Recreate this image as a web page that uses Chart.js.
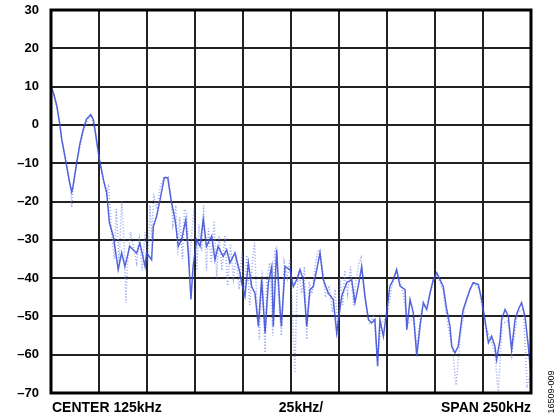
<!DOCTYPE html>
<html>
<head>
<meta charset="utf-8">
<script src="https://cdn.jsdelivr.net/npm/chart.js@4"></script>
<style>
  html, body { margin: 0; padding: 0; background: #fff; }
  #wrap { width: 560px; height: 418px; }
</style>
</head>
<body>
<div id="wrap"><canvas id="spectrum" width="560" height="418"></canvas></div>
<script>
// ── Data (kHz / dB) ───────────────────────────────────────────────────────────
const Y_TICKS = [30, 20, 10, 0, -10, -20, -30, -40, -50, -60, -70];
const X_LABELS = ['CENTER 125kHz', '25kHz/', 'SPAN 250kHz'];
const FIG_ID = '16509-009';

const solidFreq = [0,1.5,3,4.5,5.6,7,8.2,9.5,10.3,10.8,11.5,13.4,15,16.8,18.5,20.7,22,22.9,24,25.2,27.3,29,30.4,32.4,34.2,35,36.8,38.5,41,44.6,46.3,49,49.8,52.4,53.3,55,56.8,59,60.8,62.5,64.6,66.3,68,70.2,71.5,72.9,74,75.9,77.6,79.3,81,83.7,85.4,87,89.7,91.5,93.2,95.8,98.4,99.3,101,102.8,104.5,106.2,108,109.7,111.5,113.2,115,115.8,117.5,119.3,120,121.9,124.5,126.2,128,129.7,131.4,133.2,134.9,136.6,138.4,140.1,141.8,144.4,147,148.8,151.4,154,156.6,158.3,160,161.8,163.5,165.3,167,168.7,170.1,171.3,173.1,174.8,176.5,178.3,180,181.8,184.4,185.3,187,188.7,190.5,192.2,193.9,195.7,197.4,199.1,200.9,202.6,204.3,206.1,207.8,208.7,210.4,212.1,213.9,214.7,216.5,218.2,219.9,222.6,224.3,226,227.8,229.5,231.2,232.1,233.9,234.7,236.5,238.2,239.9,241.7,243.4,245.1,246.9,248.6,250];
const solidLevel = [10,8,5,0.5,-3.8,-7.5,-10.8,-14.5,-16.4,-17.5,-16,-9.8,-5,-1.2,1.5,2.7,1.5,-1.2,-5,-9,-14.3,-17.7,-25.5,-29,-35,-37.8,-33.4,-37,-31.7,-33.5,-30.8,-37,-33.4,-35.2,-26.5,-23.9,-19.5,-13.8,-13.8,-19.5,-24.7,-31.7,-30,-24.7,-33.4,-45.6,-37,-30,-31.7,-24.7,-31.7,-29,-35.2,-31.7,-34.3,-32.6,-36,-33.4,-38.6,-41.3,-44.7,-36,-42.2,-43.9,-52.6,-40.4,-54.3,-41.2,-37,-52.6,-32.6,-48.2,-52.6,-37,-37.8,-42.2,-40.4,-37.8,-40.4,-52.6,-43,-42.2,-37.8,-33.4,-40.4,-43.9,-45.6,-54.3,-44.7,-41.2,-40.4,-46.4,-42.2,-37,-44.7,-50.8,-51.7,-50.8,-63,-50.8,-55.2,-49,-42.1,-40.4,-37.8,-42.1,-43,-53.5,-45.6,-49,-60.4,-52.6,-46.4,-48.2,-43.9,-40.4,-38.6,-40.4,-42.2,-48.2,-52.6,-57.8,-59.5,-57.8,-50.8,-48.2,-45.6,-43,-41.2,-41.7,-45.6,-50.8,-56.9,-55.2,-57.8,-61.3,-56,-50.8,-48.2,-50,-58.7,-50.8,-48.2,-46.4,-50,-57.8,-66];

const dotFreq = [0,3,5.6,8.2,10.3,10.8,11.5,13.4,16.8,20.7,22.9,25.2,27.3,29,30,30.8,31.5,33,34,35.5,36.8,38,39,40,41.5,43,44.6,46,47.5,49,50.5,51.6,52.5,53.5,55,57,59,61,62.5,63.5,65,66,67,68.5,69.5,70.7,72,73,74.5,76,77,78.5,79.5,81,82,83.5,85,86.3,87.5,89,90.5,92,93.5,95,96.5,98,99.5,100.5,102,103.5,105,106,107,108.5,110,111.5,112.5,114,115.5,116.5,117.5,118.5,120,121.5,123,124.5,125.5,127,128,129,130.5,132,133.2,134.5,136,137.5,139,140,141.5,143,145,146.5,148,149.5,150.5,152,153,154.5,156,157.5,159,160.5,161.5,162.5,164,166,168,170,172,175,178,180,183,186,189,190.5,193,196,199,201,204,207,209,211,213,216,220,223,226,229,231,233,235,238,240,243,246,248,250];
const dotLevel = [10,5,-4,-11,-17,-21.5,-16,-10,-1.5,2.5,-1.5,-9,-14.5,-18,-15.5,-22,-28,-35,-22,-36,-20,-30,-46.5,-35,-28,-32,-36,-30,-38,-28,-36,-21,-30,-18,-22,-16,-13.5,-13.5,-19,-26,-21,-34,-24,-35,-22,-23,-37,-30,-22,-38,-26,-33,-21,-38,-27,-36,-25,-40,-29,-38,-29,-42,-31,-40,-34,-43,-33,-45,-34,-47,-35,-30.8,-44,-56,-38,-59.5,-40,-36,-55,-33,-31.7,-45,-55,-36,-40,-35,-46,-64.7,-45,-38,-44,-37,-56,-41,-44,-37,-33,-32.6,-38,-45,-42,-49,-43,-55,-40,-47,-38,-44,-37,-47,-40,-36,-34.7,-40,-47,-52,-50,-60,-52,-50,-41,-38,-43,-52,-50,-58,-48,-47,-41,-39,-43,-53,-58,-68,-56,-46,-41,-43,-52,-56,-59,-70,-52,-51,-60,-49,-48,-68,-65];

const toPoints = (xs, ys) => xs.map((x, i) => ({ x, y: ys[i] }));

// ── Plugins ───────────────────────────────────────────────────────────────────
const frameAndLabels = {
  id: 'frameAndLabels',
  afterDraw(chart) {
    const { ctx, chartArea: a } = chart;
    ctx.save();
    ctx.strokeStyle = '#000';
    ctx.lineWidth = 3;
    ctx.strokeRect(a.left, a.top, a.right - a.left, a.bottom - a.top);

    ctx.fillStyle = '#000';
    ctx.font = 'bold 14px "Liberation Sans", Arial, sans-serif';
    ctx.textBaseline = 'alphabetic';
    ctx.textAlign = 'left';
    ctx.fillText(X_LABELS[0], a.left + 1, 412);
    ctx.textAlign = 'center';
    ctx.fillText(X_LABELS[1], 301, 412);
    ctx.textAlign = 'right';
    ctx.fillText(X_LABELS[2], a.right, 412);

    ctx.translate(552, 392);
    ctx.rotate(-Math.PI / 2);
    ctx.font = '9px "Liberation Sans", Arial, sans-serif';
    ctx.textAlign = 'center';
    ctx.textBaseline = 'middle';
    ctx.fillText(FIG_ID, 0, 0);
    ctx.restore();
  }
};

// ── Chart ─────────────────────────────────────────────────────────────────────
new Chart(document.getElementById('spectrum'), {
  type: 'line',
  data: {
    datasets: [
      {
        label: 'trace',
        data: toPoints(solidFreq, solidLevel),
        borderColor: 'rgba(55,75,215,0.85)',
        borderWidth: 1.5,
        pointRadius: 0,
        tension: 0,
        order: 0,
      },
      {
        label: 'trace (dotted)',
        data: toPoints(dotFreq, dotLevel),
        borderColor: 'rgba(110,130,235,0.7)',
        borderWidth: 1.5,
        borderDash: [1, 2],
        pointRadius: 0,
        tension: 0,
        order: 1,
      }
    ]
  },
  options: {
    responsive: false,
    animation: false,
    layout: { padding: { top: 10, right: 29, left: 0, bottom: 0 } },
    plugins: { legend: { display: false }, tooltip: { enabled: false } },
    scales: {
      x: {
        type: 'linear',
        min: 0,
        max: 250,
        ticks: { display: false, stepSize: 25 },
        grid: { color: '#222', lineWidth: 2, drawTicks: false },
        border: { display: false },
        afterFit(scale) {
          scale.height = 25;
          scale.paddingLeft = 0;
          scale.paddingRight = 0;
        }
      },
      y: {
        min: Y_TICKS[Y_TICKS.length - 1],
        max: Y_TICKS[0],
        ticks: {
          stepSize: 10,
          padding: 12,
          color: '#000',
          font: { family: '"Liberation Sans", Arial, sans-serif', size: 13, weight: 'bold' },
          callback: v => (v < 0 ? '\u2013' + Math.abs(v) : String(v))
        },
        grid: { color: '#222', lineWidth: 2, drawTicks: false },
        border: { display: false },
        afterFit(scale) {
          scale.width = 51;
          scale.paddingTop = 0;
          scale.paddingBottom = 0;
        }
      }
    }
  },
  plugins: [frameAndLabels]
});
</script>
</body>
</html>
